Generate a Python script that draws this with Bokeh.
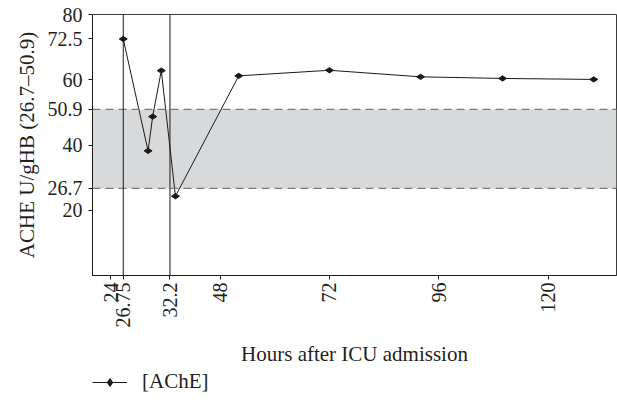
import math
from bokeh.plotting import figure
from bokeh.layouts import column
from bokeh.models import (BoxAnnotation, Span, FixedTicker, Legend, LegendItem)
from bokeh.embed import file_html
from bokeh.resources import INLINE

# ---- data ----
hours = [26.75, 32.2, 33.2, 35.1, 38.2, 52.1, 72.0, 92.0, 110.0, 130.0]
ache = [72.5, 38.2, 48.7, 62.8, 24.3, 61.2, 62.9, 60.9, 60.4, 60.1]
ref_low = 26.7
ref_high = 50.9
event_lines = [26.75, 37.0]
x_tick_pos = [24, 26.75, 37.0, 48, 72, 96, 120]
x_tick_labels = ["24", "26.75", "32.2", "48", "72", "96", "120"]
y_tick_pos = [20, 26.7, 40, 50.9, 60, 72.5, 80]
y_tick_labels = ["20", "26.7", "40", "50.9", "60", "72.5", "80"]

FONT = "Liberation Serif"
TXT = "#231f20"
INK = "#1a1a1a"

p = figure(width=617, height=368, x_range=(20, 135), y_range=(0, 80),
           output_backend="svg", toolbar_location=None,
           min_border_left=92, min_border_top=14, min_border_right=1,
           min_border_bottom=91)
p.background_fill_color = "white"
p.border_fill_color = "white"
p.outline_line_color = "#3a3a3a"
p.outline_line_width = 1
p.xgrid.visible = False
p.ygrid.visible = False

band = BoxAnnotation(bottom=ref_low, top=ref_high, fill_color="#d8d9db",
                     fill_alpha=1.0, line_alpha=0, level="underlay")
p.add_layout(band)
for v in (ref_low, ref_high):
    p.add_layout(Span(location=v, dimension="width", line_color="#7a7a7a",
                      line_width=1.2, line_dash="8 5"))
for v in event_lines:
    p.add_layout(Span(location=v, dimension="height", line_color=INK,
                      line_width=1))

p.line(hours, ache, line_color=INK, line_width=1)
p.scatter(hours, ache, marker="diamond", angle=math.pi / 2, size=8,
          fill_color=INK, line_color=INK, line_width=1)

# axes
xa = p.xaxis[0]
xa.ticker = FixedTicker(ticks=x_tick_pos)
xa.major_label_overrides = {t: l for t, l in zip(x_tick_pos, x_tick_labels)}
xa.major_label_orientation = math.pi / 2
xa.axis_label = "Hours after ICU admission"
ya = p.yaxis[0]
ya.ticker = FixedTicker(ticks=y_tick_pos)
ya.major_label_overrides = {t: l for t, l in zip(y_tick_pos, y_tick_labels)}
ya.axis_label = "ACHE U/gHB (26.7\u201350.9)"

for ax in (xa, ya):
    ax.minor_tick_line_color = None
    ax.major_tick_in = 0
    ax.major_tick_out = 4
    ax.axis_line_color = INK
    ax.major_tick_line_color = INK
    ax.major_label_text_font = FONT
    ax.major_label_text_font_size = "20px"
    ax.major_label_text_color = TXT
    ax.axis_label_text_font = FONT
    ax.axis_label_text_font_size = "21px"
    ax.axis_label_text_font_style = "normal"
    ax.axis_label_text_color = TXT
xa.major_label_standoff = 3
xa.axis_label_standoff = 11
ya.major_label_standoff = 6
ya.axis_label_standoff = 6

# ---- legend strip below the chart ----
leg = figure(width=617, height=32, x_range=(0, 1), y_range=(0, 1),
             output_backend="svg", toolbar_location=None,
             min_border=0, x_axis_type=None, y_axis_type=None)
leg.outline_line_color = None
leg.xgrid.visible = False
leg.ygrid.visible = False
leg.background_fill_color = "white"
leg.border_fill_color = "white"
l_ln = leg.line(hours, ache, line_color=INK, line_width=1)
l_sc = leg.scatter(hours, ache, marker="diamond", angle=math.pi / 2, size=8,
                   fill_color=INK, line_color=INK, line_width=1)
legend = Legend(items=[LegendItem(label="[AChE]", renderers=[l_ln, l_sc])],
                location=(0, 6), orientation="horizontal")
legend.margin = 0
legend.padding = 0
legend.border_line_alpha = 0
legend.background_fill_alpha = 0
legend.glyph_width = 35
legend.label_standoff = 15
legend.label_text_font = FONT
legend.label_text_font_size = "21px"
legend.label_text_color = TXT
leg.add_layout(legend)

layout = column(p, leg, spacing=0)
open("out.html", "w").write(file_html(layout, INLINE))
